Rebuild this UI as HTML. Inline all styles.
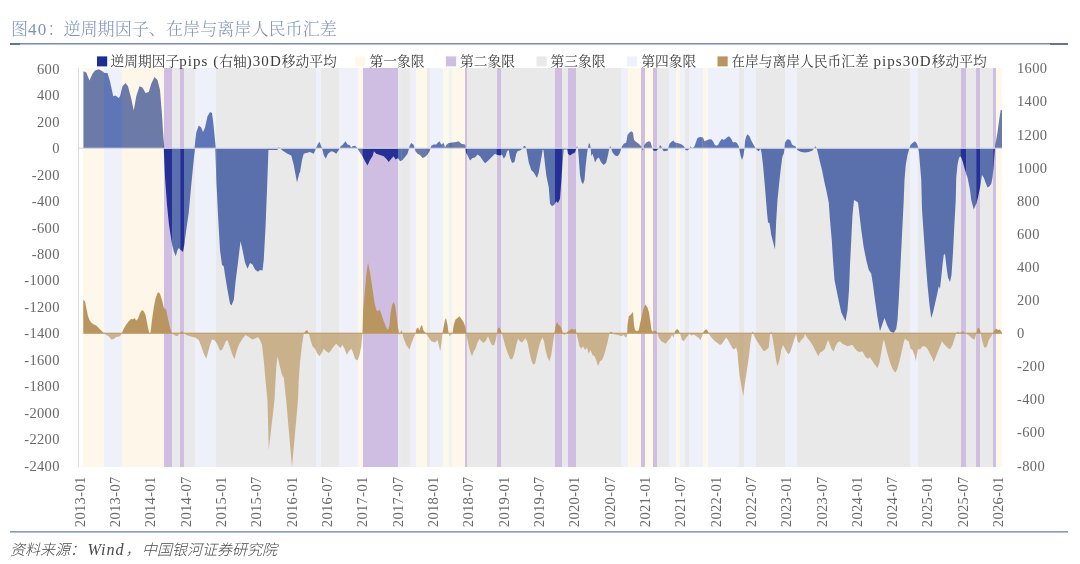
<!DOCTYPE html><html lang="zh"><head><meta charset="utf-8"><title>图40</title><style>
html,body{margin:0;padding:0;background:#fff}
body{width:1080px;height:564px;overflow:hidden;position:relative;font-family:"Liberation Serif","Noto Serif CJK SC",serif}
svg{position:absolute;left:0;top:0;will-change:transform}
.t{font-family:"Liberation Serif","Noto Serif CJK SC",serif}
.ax{font-size:14.5px;fill:#686868;letter-spacing:.35px}
.lg{font-size:13.75px;fill:#3c3c3c}
.la{font-size:15px;letter-spacing:1.05px}
.tt{font-size:17.1px;fill:#7f92bd;font-weight:300}

</style></head><body>
<svg width="1080" height="564" viewBox="0 0 1080 564">
<rect width="1080" height="564" fill="#fff"/>
<defs><clipPath id="cb"><path d="M83.25 148.25L83.25 148.00L83.25 71.25L86.25 72.50L89.50 80.50L92.50 73.75L95.00 70.50L98.75 69.25L102.50 71.25L104.50 73.00L107.50 73.00L110.00 81.25L113.25 96.25L115.50 95.50L118.75 98.00L120.00 96.25L122.50 86.25L125.50 83.00L128.00 86.25L131.25 98.75L133.75 110.50L136.25 96.25L139.50 86.25L142.50 87.50L145.50 93.00L148.75 92.00L151.25 83.75L154.50 77.00L157.50 80.00L160.00 90.00L162.00 115.00L163.50 140.00L164.25 148.00L163.75 148.75L165.00 177.50L167.00 205.00L169.00 225.00L171.75 242.50L173.75 251.25L175.75 256.25L177.50 250.00L178.75 248.00L180.75 250.00L183.00 252.00L184.25 245.00L186.25 230.00L188.75 212.50L191.25 185.00L193.75 160.00L195.00 148.75L194.50 148.00L196.25 132.50L198.75 125.50L201.25 127.50L203.00 132.00L205.00 127.50L207.50 116.25L210.00 112.00L212.00 113.00L213.25 122.50L214.50 135.00L215.75 148.00L215.25 148.75L216.25 177.50L218.00 215.00L220.00 250.00L222.00 265.00L223.75 266.25L225.00 275.00L227.50 290.00L230.00 303.75L231.50 305.50L233.75 300.00L235.75 280.00L238.00 262.50L240.50 241.25L242.50 250.00L245.00 262.50L247.50 268.75L250.00 263.00L252.50 264.50L255.00 269.50L258.00 271.75L260.00 270.00L262.50 270.50L263.75 260.00L265.50 227.50L267.00 190.00L268.50 148.75L268.50 150.00L277.50 150.00L278.75 147.00L280.00 148.25L282.50 150.50L287.50 153.75L291.25 155.50L293.75 165.00L297.00 182.50L299.50 172.50L300.00 172.50L302.00 160.00L303.75 153.75L306.25 153.00L310.00 152.00L313.75 153.75L315.50 149.50L316.25 147.50L318.00 143.75L319.50 141.75L321.25 146.25L322.00 148.25L322.50 150.00L323.75 155.00L325.75 158.75L328.00 153.75L331.25 151.25L333.75 152.00L336.25 153.75L338.75 150.00L340.00 148.25L340.50 146.25L342.50 145.00L345.50 141.25L347.50 144.50L349.50 145.00L351.25 147.50L352.50 146.25L355.00 145.75L357.00 147.50L358.00 149.50L360.00 152.50L362.50 156.25L365.00 161.25L367.50 165.50L370.00 160.00L372.50 156.25L374.00 151.25L376.25 153.75L380.00 155.00L383.75 156.25L386.25 158.75L388.75 162.00L391.25 158.75L393.75 156.25L395.50 159.50L398.00 158.00L400.00 161.25L402.50 160.00L405.00 157.00L407.50 153.75L409.00 148.75L409.50 146.25L411.25 143.00L413.75 145.00L414.50 148.25L415.50 151.25L417.50 153.75L420.00 155.00L422.50 158.00L425.00 157.00L427.50 154.50L429.50 151.25L430.50 148.25L431.25 145.75L433.75 144.50L436.25 144.50L437.50 143.00L439.50 141.25L441.25 144.50L443.75 143.00L445.00 147.50L446.25 145.00L448.75 143.00L452.50 142.50L456.25 142.00L458.75 141.25L461.25 143.75L465.00 144.50L465.50 148.25L466.00 152.50L468.00 156.25L470.00 160.50L472.50 158.00L475.00 157.50L477.50 154.50L480.00 156.25L482.50 160.00L485.00 163.25L487.50 161.25L490.00 158.75L492.50 156.25L495.00 153.75L497.50 155.00L500.00 155.50L502.00 154.50L503.75 158.75L505.50 156.25L507.00 151.25L508.75 150.00L510.00 157.50L512.00 163.00L514.50 162.00L516.25 153.75L517.50 151.25L520.00 150.50L522.50 148.75L523.75 146.25L525.00 145.75L526.25 148.25L527.00 152.50L528.75 162.50L531.25 170.00L533.75 172.50L537.00 178.00L538.75 172.50L540.50 162.50L542.50 151.25L542.50 150.00L543.50 150.00L544.50 160.00L546.25 175.00L548.75 187.50L550.00 203.75L552.00 206.25L554.50 204.50L556.25 201.25L558.00 203.00L560.00 198.75L561.25 182.50L562.50 162.50L563.75 149.50L567.00 149.50L568.00 153.75L570.00 155.50L572.50 153.75L575.00 152.50L576.25 148.75L577.00 145.75L578.00 148.75L578.75 157.50L580.00 175.00L581.25 181.25L583.00 184.25L584.50 180.00L585.75 165.00L587.00 153.75L588.00 147.50L589.00 143.00L590.00 144.50L590.75 148.25L591.25 156.25L592.50 153.75L593.75 157.50L595.00 162.50L597.00 158.75L598.75 157.50L601.25 162.50L603.75 165.00L606.25 162.50L608.00 155.00L609.25 148.75L610.25 145.75L611.25 148.75L612.50 152.50L615.00 155.50L617.50 156.25L619.50 153.75L621.25 148.75L622.00 146.25L623.75 143.75L626.25 142.50L627.50 135.00L629.50 132.50L631.25 131.25L633.00 132.50L634.00 140.00L636.25 142.00L638.75 143.75L640.75 145.75L641.75 148.25L642.50 150.00L643.75 148.75L644.50 145.00L646.25 142.50L648.75 141.25L650.50 142.00L651.75 146.25L652.50 148.75L653.75 150.75L656.25 150.75L658.75 148.75L660.00 145.00L661.25 146.25L662.00 148.75L663.75 151.25L667.50 150.75L668.50 147.50L669.50 143.75L671.25 142.00L673.25 140.50L675.00 142.50L677.50 143.00L680.00 143.75L682.50 145.00L684.50 147.00L685.50 150.00L687.50 150.50L689.50 148.75L690.75 146.25L692.00 148.75L694.50 146.25L696.25 141.25L697.50 138.00L700.00 137.00L703.00 137.50L704.50 141.25L706.25 140.50L708.75 139.50L711.25 139.25L713.00 141.25L714.50 144.50L716.25 145.75L718.00 145.00L720.00 141.25L722.00 138.75L723.75 140.00L725.50 138.75L727.50 137.00L729.00 136.25L731.25 138.75L733.00 142.50L735.00 142.00L737.00 143.00L738.75 146.25L739.50 150.00L740.75 156.25L742.00 160.00L743.25 156.25L744.50 148.75L745.00 141.25L746.25 136.25L747.50 134.25L749.50 136.25L751.25 140.50L753.00 143.75L754.50 146.25L755.50 148.25L757.00 150.00L758.75 151.25L760.50 148.75L761.50 152.50L763.00 165.00L765.00 187.50L767.00 212.50L768.00 222.50L769.50 223.00L771.25 235.00L775.00 249.50L776.25 220.00L777.50 200.00L779.50 180.00L781.25 165.00L782.50 156.25L783.75 153.75L784.50 148.75L785.00 142.50L787.00 139.50L788.75 139.25L790.50 140.50L792.00 144.50L793.75 145.75L795.50 146.25L796.50 148.75L798.00 150.50L801.25 152.00L805.00 152.50L808.75 152.00L812.50 150.50L814.50 147.50L815.50 146.25L816.50 148.00L817.50 151.25L819.50 160.00L822.00 170.00L824.50 182.50L826.25 190.00L828.75 202.50L830.00 220.00L831.75 240.00L833.00 260.00L834.50 280.00L837.50 295.00L841.25 312.50L845.50 321.25L847.50 310.00L849.00 290.00L850.00 265.00L851.25 240.00L852.50 215.00L854.00 200.00L856.25 201.25L858.00 202.50L859.50 215.00L861.25 230.00L863.75 247.50L866.25 260.00L868.75 270.00L871.25 273.75L873.00 285.00L875.00 300.00L877.50 317.50L880.00 331.25L882.50 323.75L884.50 318.00L887.00 325.00L890.00 331.25L893.75 333.00L896.25 328.75L897.50 320.00L898.75 300.00L900.00 275.00L901.25 250.00L902.50 225.00L903.75 200.00L904.50 180.00L905.75 165.00L907.50 155.00L909.50 148.00L910.50 145.00L912.50 143.00L915.00 141.25L917.00 143.75L918.25 148.00L919.00 152.50L920.00 165.00L921.25 180.00L922.00 210.00L923.75 235.00L925.50 260.00L927.50 285.00L929.50 305.00L931.25 318.00L933.00 312.50L935.00 303.75L937.00 295.00L938.75 286.25L940.00 288.75L941.25 277.50L942.50 265.00L943.75 255.00L945.00 253.75L946.25 265.00L948.00 277.50L950.00 282.00L951.50 275.00L953.00 252.50L954.50 222.50L955.75 200.00L956.25 177.50L957.50 165.00L958.75 158.75L960.00 156.25L961.25 157.50L963.00 162.50L965.00 170.00L967.50 177.50L970.00 190.00L971.25 200.00L973.75 209.50L976.25 203.75L978.00 197.50L979.25 191.25L980.00 187.50L982.00 175.00L983.75 177.50L985.50 182.50L987.50 187.50L989.50 186.25L991.25 183.75L992.50 177.50L993.75 165.00L995.00 148.00L995.75 142.50L997.50 132.50L999.50 117.50L1000.75 110.00L1002.00 110.00L1002.00 148.00L1002.00 148.25 Z"/></clipPath><clipPath id="cr"><path d="M83.25 333.25L83.25 333.25L83.25 300.00L85.00 301.25L86.25 307.50L88.00 316.25L89.50 320.00L91.25 322.50L93.75 324.50L96.25 325.50L98.75 328.00L101.25 330.50L103.75 333.00L105.00 334.25L108.75 336.25L111.25 339.50L113.75 339.00L116.25 337.00L120.00 336.25L121.75 333.25L123.75 328.75L126.25 324.50L128.75 321.25L131.25 318.75L133.00 319.50L134.50 318.00L136.25 320.50L138.00 318.75L140.00 313.00L142.00 310.00L143.75 311.25L145.50 315.00L147.50 325.00L149.50 334.50L150.50 332.50L152.00 320.00L153.75 307.50L155.75 297.50L158.00 292.00L160.00 293.75L162.00 300.00L163.75 307.50L166.25 310.00L168.00 318.75L170.00 327.50L172.00 333.25L175.00 335.50L177.50 336.25L180.00 332.50L182.00 331.25L183.75 333.00L186.25 335.00L190.00 336.25L195.00 337.50L198.75 340.00L201.25 346.25L203.75 353.75L206.25 358.75L208.00 352.50L210.00 345.00L212.00 339.50L214.50 340.00L217.00 343.75L220.00 350.50L222.00 350.00L223.75 346.25L225.75 341.25L227.50 340.00L230.00 347.50L232.50 355.00L234.50 359.25L236.25 352.50L238.75 345.00L242.50 338.75L245.50 335.00L248.75 337.00L252.50 339.50L256.25 338.00L258.00 337.00L260.00 340.00L262.00 345.00L263.75 360.00L265.50 380.00L267.50 401.00L268.75 450.00L274.50 400.00L276.25 367.50L277.50 356.25L279.50 365.00L282.00 375.00L283.75 377.50L286.25 401.00L292.00 467.00L298.00 400.00L298.75 380.00L300.00 362.50L302.00 345.00L303.75 333.75L305.50 331.25L307.00 330.00L308.75 333.00L310.50 340.00L312.50 346.25L315.00 348.75L317.50 353.75L319.50 356.25L322.00 352.50L323.75 348.75L326.25 351.25L328.75 353.00L331.25 350.00L333.75 346.25L336.25 343.75L338.75 346.25L340.50 348.00L342.50 345.00L344.50 348.75L347.00 355.00L348.75 351.25L351.25 348.75L353.00 352.50L355.00 358.75L357.50 360.50L359.50 355.00L361.25 346.25L362.50 333.25L363.00 312.50L364.50 295.00L366.25 275.00L368.00 262.50L369.50 270.00L371.25 280.00L373.00 292.50L374.50 302.50L376.25 310.00L378.00 311.25L379.50 309.50L381.25 313.75L383.75 321.25L386.25 327.50L388.00 330.00L389.50 325.00L390.50 313.75L392.00 305.00L393.50 302.00L395.00 305.00L396.50 315.00L398.00 327.50L399.00 333.25L400.00 335.00L401.25 330.00L402.50 333.75L403.75 338.75L406.25 345.00L409.50 349.50L411.25 343.75L413.75 337.50L415.50 333.25L416.50 328.75L418.00 327.50L419.50 330.50L420.75 326.25L422.00 325.00L423.25 330.00L425.00 332.50L427.00 335.00L428.75 337.50L431.25 341.25L435.00 342.50L437.50 340.00L439.00 346.25L440.25 351.25L441.50 342.50L442.50 333.25L443.50 327.50L445.00 320.00L446.00 318.00L447.50 325.00L448.50 332.50L449.50 336.25L451.25 334.50L452.50 333.25L453.75 325.00L455.50 319.50L457.50 318.00L459.50 316.25L461.25 318.75L463.75 322.50L465.50 327.50L466.25 333.25L467.00 337.50L468.75 346.25L470.50 352.50L472.00 356.25L473.75 351.25L475.50 348.75L477.50 342.50L479.50 338.75L481.25 341.25L483.75 343.00L486.25 340.00L488.00 336.25L490.00 341.25L492.00 345.00L494.00 345.50L495.75 340.00L497.00 333.25L498.00 328.00L499.50 327.50L500.75 330.00L501.75 333.25L503.00 337.50L505.00 345.00L507.50 352.50L510.00 358.75L512.00 359.50L514.00 355.00L516.25 345.00L518.00 338.75L520.00 341.25L522.00 342.50L523.75 340.50L525.50 338.00L527.50 342.50L529.50 352.50L531.25 360.00L533.00 364.50L535.00 363.75L537.00 355.00L538.75 347.50L540.50 341.25L542.50 337.50L544.00 341.25L545.50 350.00L547.50 357.50L549.50 361.25L551.25 355.00L553.00 342.50L554.50 333.25L555.50 326.25L557.00 322.00L558.75 325.00L560.50 326.25L562.00 330.00L563.00 333.75L564.50 335.00L566.25 333.25L568.00 331.25L570.00 330.00L572.00 328.75L573.75 330.00L575.50 328.75L576.50 333.25L577.50 337.50L579.50 346.25L581.25 348.75L583.00 346.25L585.00 350.00L587.00 347.50L588.75 353.75L590.50 350.00L592.50 355.00L594.50 356.25L596.25 360.00L598.00 366.25L600.00 361.25L602.00 360.00L603.75 356.25L605.50 350.00L607.50 342.50L609.00 335.00L610.00 332.50L611.25 331.75L613.00 333.25L615.00 334.50L618.00 335.00L621.25 336.25L623.75 335.00L625.50 337.50L627.00 336.25L627.50 325.00L628.75 316.25L630.50 315.00L632.00 313.00L633.00 312.00L634.00 325.00L635.00 330.00L637.00 331.25L638.75 330.00L640.00 323.75L642.00 315.00L643.75 307.50L645.50 304.50L647.50 307.50L649.00 312.50L650.50 322.50L651.50 330.00L653.00 332.00L654.50 330.50L656.25 331.25L657.50 333.25L658.75 337.50L661.25 341.25L663.75 342.50L665.75 343.75L667.50 341.25L670.00 338.75L672.00 335.00L673.75 337.50L675.00 331.25L677.00 329.00L678.75 330.50L680.00 333.75L682.00 340.00L683.75 341.25L685.50 338.75L687.50 336.25L689.50 333.75L691.25 335.50L693.75 334.50L696.25 336.25L698.75 338.00L700.50 340.00L702.50 335.00L703.75 331.25L706.25 329.25L708.00 331.25L709.50 335.00L712.50 338.75L715.00 341.25L717.50 343.00L720.00 345.00L722.00 343.75L724.50 340.00L726.25 337.50L728.00 340.00L730.00 343.75L732.00 347.50L733.75 349.50L736.25 347.50L737.50 352.50L738.00 360.00L739.50 375.00L741.25 385.00L743.25 396.25L745.00 382.50L747.00 370.00L748.75 357.50L750.50 342.50L752.00 333.25L753.00 331.25L753.75 335.00L756.25 340.00L758.75 343.75L761.25 347.50L763.75 351.25L766.25 350.00L768.75 347.50L770.00 335.00L771.25 331.25L772.50 337.50L774.50 350.00L776.25 361.25L777.50 366.25L779.50 360.00L781.25 350.00L783.00 345.00L785.00 348.75L787.00 352.50L788.75 354.50L790.50 351.25L792.50 345.00L794.50 338.75L796.25 333.75L797.50 341.25L799.50 343.00L801.25 340.00L803.75 337.50L805.00 333.75L807.00 337.50L810.00 341.25L812.50 345.00L815.00 350.00L817.00 353.75L818.50 356.25L820.00 352.50L822.50 351.25L825.00 348.75L827.00 342.50L828.25 340.00L830.00 345.00L832.00 350.00L833.75 351.25L835.50 346.25L837.50 342.50L840.00 341.25L842.50 343.75L845.00 345.00L847.50 346.25L850.00 345.50L852.50 345.00L855.00 348.75L857.50 351.25L860.00 352.00L862.50 351.25L865.00 356.25L867.50 358.75L870.00 357.50L872.50 361.25L875.00 365.00L877.50 368.00L879.50 362.50L881.25 352.50L883.00 342.50L884.00 339.50L885.50 346.25L887.50 353.75L890.00 362.50L892.50 368.75L895.00 372.50L897.00 370.00L899.50 361.25L902.00 350.00L904.00 341.25L905.00 338.75L907.00 340.50L908.75 341.25L910.50 348.75L912.50 350.00L914.50 355.00L915.75 361.25L917.00 353.75L918.25 348.75L920.00 349.50L922.50 346.25L925.00 346.25L927.50 348.75L930.00 353.75L932.00 357.50L933.75 362.00L935.50 357.50L937.50 352.50L940.00 346.25L942.00 341.25L943.75 343.75L946.25 346.25L948.75 348.75L950.50 348.75L952.50 345.00L954.50 338.75L956.25 333.25L957.50 332.00L960.00 333.00L962.50 331.25L965.00 333.00L967.50 334.50L970.00 336.25L972.50 338.75L974.50 339.50L976.25 333.75L977.50 328.75L978.75 327.50L980.00 330.00L980.75 333.25L982.00 340.00L983.75 346.25L985.00 348.00L987.00 346.25L988.75 340.00L991.25 336.25L993.00 333.25L994.50 330.00L996.25 328.75L998.00 330.00L999.50 329.50L1001.25 331.25L1002.00 333.25L1002.00 333.25 Z"/></clipPath></defs>
<text class="t tt" y="34.6"><tspan x="11">图</tspan><tspan x="27.9" style="letter-spacing:1.4px">40</tspan><tspan x="47.6">：</tspan><tspan x="63.4">逆周期因子、在岸与离岸人民币汇差</tspan></text>
<rect x="10" y="43.1" width="1058" height="1.4" fill="#6b82b0"/>
<rect x="10" y="43" width="10" height="2" fill="#61769f"/><rect x="1050" y="43" width="18" height="2" fill="#61769f"/>
<g shape-rendering="crispEdges">
<rect x="83.25" y="68" width="21.05" height="399.2" fill="#fdf8ea"/>
<rect x="104.00" y="68" width="18.05" height="399.2" fill="#eff1fa"/>
<rect x="121.75" y="68" width="42.30" height="399.2" fill="#fef6e9"/>
<rect x="163.75" y="68" width="8.55" height="399.2" fill="#d0bee2"/>
<rect x="172.00" y="68" width="8.55" height="399.2" fill="#e9e9e9"/>
<rect x="180.25" y="68" width="4.05" height="399.2" fill="#d0bee2"/>
<rect x="184.00" y="68" width="11.30" height="399.2" fill="#e9e9e9"/>
<rect x="195.00" y="68" width="21.55" height="399.2" fill="#eff1fa"/>
<rect x="216.25" y="68" width="99.55" height="399.2" fill="#e9e9e9"/>
<rect x="315.50" y="68" width="6.05" height="399.2" fill="#eff1fa"/>
<rect x="321.25" y="68" width="17.80" height="399.2" fill="#e9e9e9"/>
<rect x="338.75" y="68" width="12.80" height="399.2" fill="#f0f0f8"/>
<rect x="351.25" y="68" width="7.05" height="399.2" fill="#eff1fa"/>
<rect x="358.00" y="68" width="4.80" height="399.2" fill="#fdf8ea"/>
<rect x="362.50" y="68" width="35.80" height="399.2" fill="#d0bee2"/>
<rect x="398.00" y="68" width="3.70" height="399.2" fill="#eaeaf0"/>
<rect x="401.40" y="68" width="8.90" height="399.2" fill="#e9e9e9"/>
<rect x="410.00" y="68" width="5.80" height="399.2" fill="#f0eef8"/>
<rect x="415.50" y="68" width="11.80" height="399.2" fill="#fdf8ea"/>
<rect x="427.00" y="68" width="3.10" height="399.2" fill="#e9e9e9"/>
<rect x="429.80" y="68" width="13.00" height="399.2" fill="#eff1fa"/>
<rect x="442.50" y="68" width="6.30" height="399.2" fill="#fafaea"/>
<rect x="448.50" y="68" width="3.80" height="399.2" fill="#f2f2f2"/>
<rect x="452.00" y="68" width="13.30" height="399.2" fill="#fdf8ea"/>
<rect x="465.00" y="68" width="2.10" height="399.2" fill="#d0bee2"/>
<rect x="466.80" y="68" width="30.25" height="399.2" fill="#e9e9e9"/>
<rect x="496.75" y="68" width="4.80" height="399.2" fill="#d0bee2"/>
<rect x="501.25" y="68" width="54.05" height="399.2" fill="#e9e9e9"/>
<rect x="555.00" y="68" width="7.30" height="399.2" fill="#d0bee2"/>
<rect x="562.00" y="68" width="6.30" height="399.2" fill="#e9e9e9"/>
<rect x="568.00" y="68" width="8.30" height="399.2" fill="#d0bee2"/>
<rect x="576.00" y="68" width="45.55" height="399.2" fill="#e9e9e9"/>
<rect x="621.25" y="68" width="7.05" height="399.2" fill="#eff1fa"/>
<rect x="628.00" y="68" width="13.55" height="399.2" fill="#fdf8ea"/>
<rect x="641.25" y="68" width="3.55" height="399.2" fill="#d0bee2"/>
<rect x="644.50" y="68" width="8.30" height="399.2" fill="#fdf8ea"/>
<rect x="652.50" y="68" width="4.80" height="399.2" fill="#d0bee2"/>
<rect x="657.00" y="68" width="12.05" height="399.2" fill="#e9e9e9"/>
<rect x="668.75" y="68" width="7.80" height="399.2" fill="#eff1fa"/>
<rect x="676.25" y="68" width="4.05" height="399.2" fill="#fdf8ea"/>
<rect x="680.00" y="68" width="5.30" height="399.2" fill="#eff1fa"/>
<rect x="685.00" y="68" width="4.55" height="399.2" fill="#e9e9e9"/>
<rect x="689.25" y="68" width="13.55" height="399.2" fill="#eff1fa"/>
<rect x="702.50" y="68" width="5.80" height="399.2" fill="#fdf8ea"/>
<rect x="708.00" y="68" width="31.05" height="399.2" fill="#eff1fa"/>
<rect x="738.75" y="68" width="5.30" height="399.2" fill="#e9e9e9"/>
<rect x="743.75" y="68" width="12.05" height="399.2" fill="#eff1fa"/>
<rect x="755.50" y="68" width="29.30" height="399.2" fill="#e9e9e9"/>
<rect x="784.50" y="68" width="12.80" height="399.2" fill="#eff1fa"/>
<rect x="797.00" y="68" width="113.30" height="399.2" fill="#e9e9e9"/>
<rect x="910.00" y="68" width="8.55" height="399.2" fill="#eff1fa"/>
<rect x="918.25" y="68" width="42.80" height="399.2" fill="#e9e9e9"/>
<rect x="960.75" y="68" width="5.80" height="399.2" fill="#d0bee2"/>
<rect x="966.25" y="68" width="10.30" height="399.2" fill="#e9e9e9"/>
<rect x="976.25" y="68" width="4.05" height="399.2" fill="#d0bee2"/>
<rect x="980.00" y="68" width="13.55" height="399.2" fill="#e9e9e9"/>
<rect x="993.25" y="68" width="2.55" height="399.2" fill="#d0bee2"/>
<rect x="995.50" y="68" width="6.80" height="399.2" fill="#fdf8ea"/>
</g>
<g clip-path="url(#cb)">
<rect x="83.25" y="68" width="21.05" height="399.2" fill="#6c7aa8"/>
<rect x="104.00" y="68" width="18.05" height="399.2" fill="#5e76b8"/>
<rect x="121.75" y="68" width="42.30" height="399.2" fill="#6c7aa8"/>
<rect x="163.75" y="68" width="8.55" height="399.2" fill="#243096"/>
<rect x="172.00" y="68" width="8.55" height="399.2" fill="#5a70ac"/>
<rect x="180.25" y="68" width="4.05" height="399.2" fill="#243096"/>
<rect x="184.00" y="68" width="11.30" height="399.2" fill="#5a70ac"/>
<rect x="195.00" y="68" width="21.55" height="399.2" fill="#5e76b8"/>
<rect x="216.25" y="68" width="99.55" height="399.2" fill="#5a70ac"/>
<rect x="315.50" y="68" width="6.05" height="399.2" fill="#5e76b8"/>
<rect x="321.25" y="68" width="17.80" height="399.2" fill="#5a70ac"/>
<rect x="338.75" y="68" width="12.80" height="399.2" fill="#5c73b4"/>
<rect x="351.25" y="68" width="7.05" height="399.2" fill="#5e76b8"/>
<rect x="358.00" y="68" width="4.80" height="399.2" fill="#6c7aa8"/>
<rect x="362.50" y="68" width="35.80" height="399.2" fill="#243096"/>
<rect x="398.00" y="68" width="3.70" height="399.2" fill="#5a70ac"/>
<rect x="401.40" y="68" width="8.90" height="399.2" fill="#5a70ac"/>
<rect x="410.00" y="68" width="5.80" height="399.2" fill="#5c73b4"/>
<rect x="415.50" y="68" width="11.80" height="399.2" fill="#6c7aa8"/>
<rect x="427.00" y="68" width="3.10" height="399.2" fill="#5a70ac"/>
<rect x="429.80" y="68" width="13.00" height="399.2" fill="#5e76b8"/>
<rect x="442.50" y="68" width="6.30" height="399.2" fill="#6c7aa8"/>
<rect x="448.50" y="68" width="3.80" height="399.2" fill="#5a70ac"/>
<rect x="452.00" y="68" width="13.30" height="399.2" fill="#6c7aa8"/>
<rect x="465.00" y="68" width="2.10" height="399.2" fill="#243096"/>
<rect x="466.80" y="68" width="30.25" height="399.2" fill="#5a70ac"/>
<rect x="496.75" y="68" width="4.80" height="399.2" fill="#243096"/>
<rect x="501.25" y="68" width="54.05" height="399.2" fill="#5a70ac"/>
<rect x="555.00" y="68" width="7.30" height="399.2" fill="#243096"/>
<rect x="562.00" y="68" width="6.30" height="399.2" fill="#5a70ac"/>
<rect x="568.00" y="68" width="8.30" height="399.2" fill="#243096"/>
<rect x="576.00" y="68" width="45.55" height="399.2" fill="#5a70ac"/>
<rect x="621.25" y="68" width="7.05" height="399.2" fill="#5e76b8"/>
<rect x="628.00" y="68" width="13.55" height="399.2" fill="#6c7aa8"/>
<rect x="641.25" y="68" width="3.55" height="399.2" fill="#243096"/>
<rect x="644.50" y="68" width="8.30" height="399.2" fill="#6c7aa8"/>
<rect x="652.50" y="68" width="4.80" height="399.2" fill="#243096"/>
<rect x="657.00" y="68" width="12.05" height="399.2" fill="#5a70ac"/>
<rect x="668.75" y="68" width="7.80" height="399.2" fill="#5e76b8"/>
<rect x="676.25" y="68" width="4.05" height="399.2" fill="#6c7aa8"/>
<rect x="680.00" y="68" width="5.30" height="399.2" fill="#5e76b8"/>
<rect x="685.00" y="68" width="4.55" height="399.2" fill="#5a70ac"/>
<rect x="689.25" y="68" width="13.55" height="399.2" fill="#5e76b8"/>
<rect x="702.50" y="68" width="5.80" height="399.2" fill="#6c7aa8"/>
<rect x="708.00" y="68" width="31.05" height="399.2" fill="#5e76b8"/>
<rect x="738.75" y="68" width="5.30" height="399.2" fill="#5a70ac"/>
<rect x="743.75" y="68" width="12.05" height="399.2" fill="#5e76b8"/>
<rect x="755.50" y="68" width="29.30" height="399.2" fill="#5a70ac"/>
<rect x="784.50" y="68" width="12.80" height="399.2" fill="#5e76b8"/>
<rect x="797.00" y="68" width="113.30" height="399.2" fill="#5a70ac"/>
<rect x="910.00" y="68" width="8.55" height="399.2" fill="#5e76b8"/>
<rect x="918.25" y="68" width="42.80" height="399.2" fill="#5a70ac"/>
<rect x="960.75" y="68" width="5.80" height="399.2" fill="#243096"/>
<rect x="966.25" y="68" width="10.30" height="399.2" fill="#5a70ac"/>
<rect x="976.25" y="68" width="4.05" height="399.2" fill="#243096"/>
<rect x="980.00" y="68" width="13.55" height="399.2" fill="#5a70ac"/>
<rect x="993.25" y="68" width="2.55" height="399.2" fill="#243096"/>
<rect x="995.50" y="68" width="6.80" height="399.2" fill="#6c7aa8"/>
</g>
<rect x="78" y="68" width="1" height="399.2" fill="#d9d9d9"/>
<rect x="78" y="147.7" width="924" height="1.1" fill="#d4d8e4"/>
<g clip-path="url(#cr)"><rect x="80" y="60" width="930" height="273.25" fill="#b9965f"/><rect x="80" y="333.25" width="930" height="140" fill="#b9965f" fill-opacity=".68"/></g>
<rect x="83.25" y="332.7" width="918.75" height="1.1" fill="#c09a64"/>
<text class="t ax" x="59.8" y="73.80" text-anchor="end">600</text>
<text class="t ax" x="59.8" y="100.25" text-anchor="end">400</text>
<text class="t ax" x="59.8" y="126.70" text-anchor="end">200</text>
<text class="t ax" x="59.8" y="153.15" text-anchor="end">0</text>
<text class="t ax" x="59.8" y="179.60" text-anchor="end">-200</text>
<text class="t ax" x="59.8" y="206.05" text-anchor="end">-400</text>
<text class="t ax" x="59.8" y="232.50" text-anchor="end">-600</text>
<text class="t ax" x="59.8" y="258.95" text-anchor="end">-800</text>
<text class="t ax" x="59.8" y="285.40" text-anchor="end">-1000</text>
<text class="t ax" x="59.8" y="311.85" text-anchor="end">-1200</text>
<text class="t ax" x="59.8" y="338.30" text-anchor="end">-1400</text>
<text class="t ax" x="59.8" y="364.75" text-anchor="end">-1600</text>
<text class="t ax" x="59.8" y="391.20" text-anchor="end">-1800</text>
<text class="t ax" x="59.8" y="417.65" text-anchor="end">-2000</text>
<text class="t ax" x="59.8" y="444.10" text-anchor="end">-2200</text>
<text class="t ax" x="59.8" y="470.55" text-anchor="end">-2400</text>
<text class="t ax" x="1017" y="73.30">1600</text>
<text class="t ax" x="1017" y="106.40">1400</text>
<text class="t ax" x="1017" y="139.50">1200</text>
<text class="t ax" x="1017" y="172.60">1000</text>
<text class="t ax" x="1017" y="205.70">800</text>
<text class="t ax" x="1017" y="238.80">600</text>
<text class="t ax" x="1017" y="271.90">400</text>
<text class="t ax" x="1017" y="305.00">200</text>
<text class="t ax" x="1017" y="338.10">0</text>
<text class="t ax" x="1017" y="371.20">-200</text>
<text class="t ax" x="1017" y="404.30">-400</text>
<text class="t ax" x="1017" y="437.40">-600</text>
<text class="t ax" x="1017" y="470.50">-800</text>
<text class="t ax" transform="translate(84.80,527.2) rotate(-90)">2013-01</text>
<text class="t ax" transform="translate(120.12,527.2) rotate(-90)">2013-07</text>
<text class="t ax" transform="translate(155.44,527.2) rotate(-90)">2014-01</text>
<text class="t ax" transform="translate(190.76,527.2) rotate(-90)">2014-07</text>
<text class="t ax" transform="translate(226.08,527.2) rotate(-90)">2015-01</text>
<text class="t ax" transform="translate(261.40,527.2) rotate(-90)">2015-07</text>
<text class="t ax" transform="translate(296.72,527.2) rotate(-90)">2016-01</text>
<text class="t ax" transform="translate(332.04,527.2) rotate(-90)">2016-07</text>
<text class="t ax" transform="translate(367.36,527.2) rotate(-90)">2017-01</text>
<text class="t ax" transform="translate(402.68,527.2) rotate(-90)">2017-07</text>
<text class="t ax" transform="translate(438.00,527.2) rotate(-90)">2018-01</text>
<text class="t ax" transform="translate(473.32,527.2) rotate(-90)">2018-07</text>
<text class="t ax" transform="translate(508.64,527.2) rotate(-90)">2019-01</text>
<text class="t ax" transform="translate(543.96,527.2) rotate(-90)">2019-07</text>
<text class="t ax" transform="translate(579.28,527.2) rotate(-90)">2020-01</text>
<text class="t ax" transform="translate(614.60,527.2) rotate(-90)">2020-07</text>
<text class="t ax" transform="translate(649.92,527.2) rotate(-90)">2021-01</text>
<text class="t ax" transform="translate(685.24,527.2) rotate(-90)">2021-07</text>
<text class="t ax" transform="translate(720.56,527.2) rotate(-90)">2022-01</text>
<text class="t ax" transform="translate(755.88,527.2) rotate(-90)">2022-07</text>
<text class="t ax" transform="translate(791.20,527.2) rotate(-90)">2023-01</text>
<text class="t ax" transform="translate(826.52,527.2) rotate(-90)">2023-07</text>
<text class="t ax" transform="translate(861.84,527.2) rotate(-90)">2024-01</text>
<text class="t ax" transform="translate(897.16,527.2) rotate(-90)">2024-07</text>
<text class="t ax" transform="translate(932.48,527.2) rotate(-90)">2025-01</text>
<text class="t ax" transform="translate(967.80,527.2) rotate(-90)">2025-07</text>
<text class="t ax" transform="translate(1003.12,527.2) rotate(-90)">2026-01</text>
<rect x="97.00" y="56.4" width="10.2" height="10" fill="#1a2e94"/>
<text class="t lg" x="110.40" y="66">逆周期因子<tspan class="la">pips (</tspan>右轴<tspan class="la">)30D</tspan>移动平均</text>
<rect x="355.00" y="56.4" width="10.2" height="10" fill="#fdf8e8"/>
<text class="t lg" x="369.50" y="66">第一象限</text>
<rect x="446.00" y="56.4" width="10.2" height="10" fill="#d0bee2"/>
<text class="t lg" x="460.00" y="66">第二象限</text>
<rect x="536.50" y="56.4" width="10.2" height="10" fill="#e9e9e9"/>
<text class="t lg" x="550.50" y="66">第三象限</text>
<rect x="627.00" y="56.4" width="10.2" height="10" fill="#eef0fb"/>
<text class="t lg" x="641.25" y="66">第四象限</text>
<rect x="717.50" y="56.4" width="10.2" height="10" fill="#b9965f"/>
<text class="t lg" x="731.20" y="66">在岸与离岸人民币汇差<tspan class="la"> pips30D</tspan>移动平均</text>
<rect x="10" y="531.2" width="1058" height="1.3" fill="#6b82b0"/>
<text y="554.9" font-size="15" font-style="italic" font-weight="300" fill="#4a4a4a" style="font-family:'Liberation Serif','Noto Sans CJK SC',sans-serif"><tspan x="10">资料来源：</tspan><tspan x="87.4" font-size="16.2" font-weight="400" style="letter-spacing:1px">Wind</tspan><tspan x="125.5">，</tspan><tspan x="142">中国银河证券研究院</tspan></text>
</svg></body></html>
